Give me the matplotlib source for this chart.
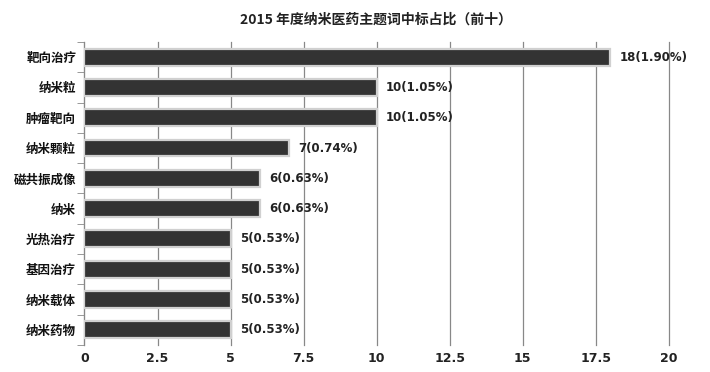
import matplotlib.pyplot as plt
import numpy as np

plt.rcParams['font.family'] = ['Noto Sans CJK SC', 'DejaVu Sans']

# data (top to bottom)
categories = ['靶向治疗', '纳米粒', '肿瘤靶向', '纳米颗粒', '磁共振成像',
              '纳米', '光热治疗', '基因治疗', '纳米载体', '纳米药物']
counts = [18, 10, 10, 7, 6, 6, 5, 5, 5, 5]
shares = ['1.90%', '1.05%', '1.05%', '0.74%', '0.63%',
          '0.63%', '0.53%', '0.53%', '0.53%', '0.53%']
x_ticks = [0, 2.5, 5, 7.5, 10, 12.5, 15, 17.5, 20]
x_tick_labels = ['0', '2.5', '5', '7.5', '10', '12.5', '15', '17.5', '20']

fig = plt.figure(figsize=(7.1, 3.72), dpi=100)
ax = fig.add_axes([0.119, 0.073, 0.823, 0.814])

y = np.arange(len(categories))
ax.barh(y, counts, height=0.56, color='#333333', edgecolor='#d0d0d0',
        linewidth=1.6, zorder=3)

for yi, c, s in zip(y, counts, shares):
    ax.annotate(f'{c}({s})', (c, yi), xytext=(6.5, 0), textcoords='offset points',
                va='center', ha='left', fontsize=8.5, fontweight='bold',
                family='DejaVu Sans', color='#222222', zorder=4)

ax.set_xlim(0, 20)
ax.set_ylim(len(categories) - 0.5, -0.5)
ax.set_xticks(x_ticks)
ax.set_xticklabels(x_tick_labels, fontsize=9, fontweight='bold',
                   family='DejaVu Sans', color='#222222')
ax.set_yticks(y)
ax.set_yticklabels(categories, fontsize=9, fontweight='bold', color='#111111')
ax.set_yticks(np.arange(len(categories) + 1) - 0.5, minor=True)

ax.tick_params(axis='y', which='major', length=0, pad=6)
ax.tick_params(axis='y', which='minor', length=5, color='#888888')
ax.tick_params(axis='x', length=0, pad=5)

ax.grid(axis='x', color='#888888', linewidth=0.9, zorder=0)
# keep the last grid line (at 20) from being clipped at the axes edge
for line in ax.get_xgridlines():
    line.set_clip_on(False)
for side in ['top', 'right', 'bottom']:
    ax.spines[side].set_visible(False)
ax.spines['left'].set_color('#888888')

fig.suptitle('2015 年度纳米医药主题词中标占比（前十）', x=0.53, y=0.965,
             fontsize=10, fontweight='bold', color='#222222')

fig.savefig('out.png', dpi=100)
